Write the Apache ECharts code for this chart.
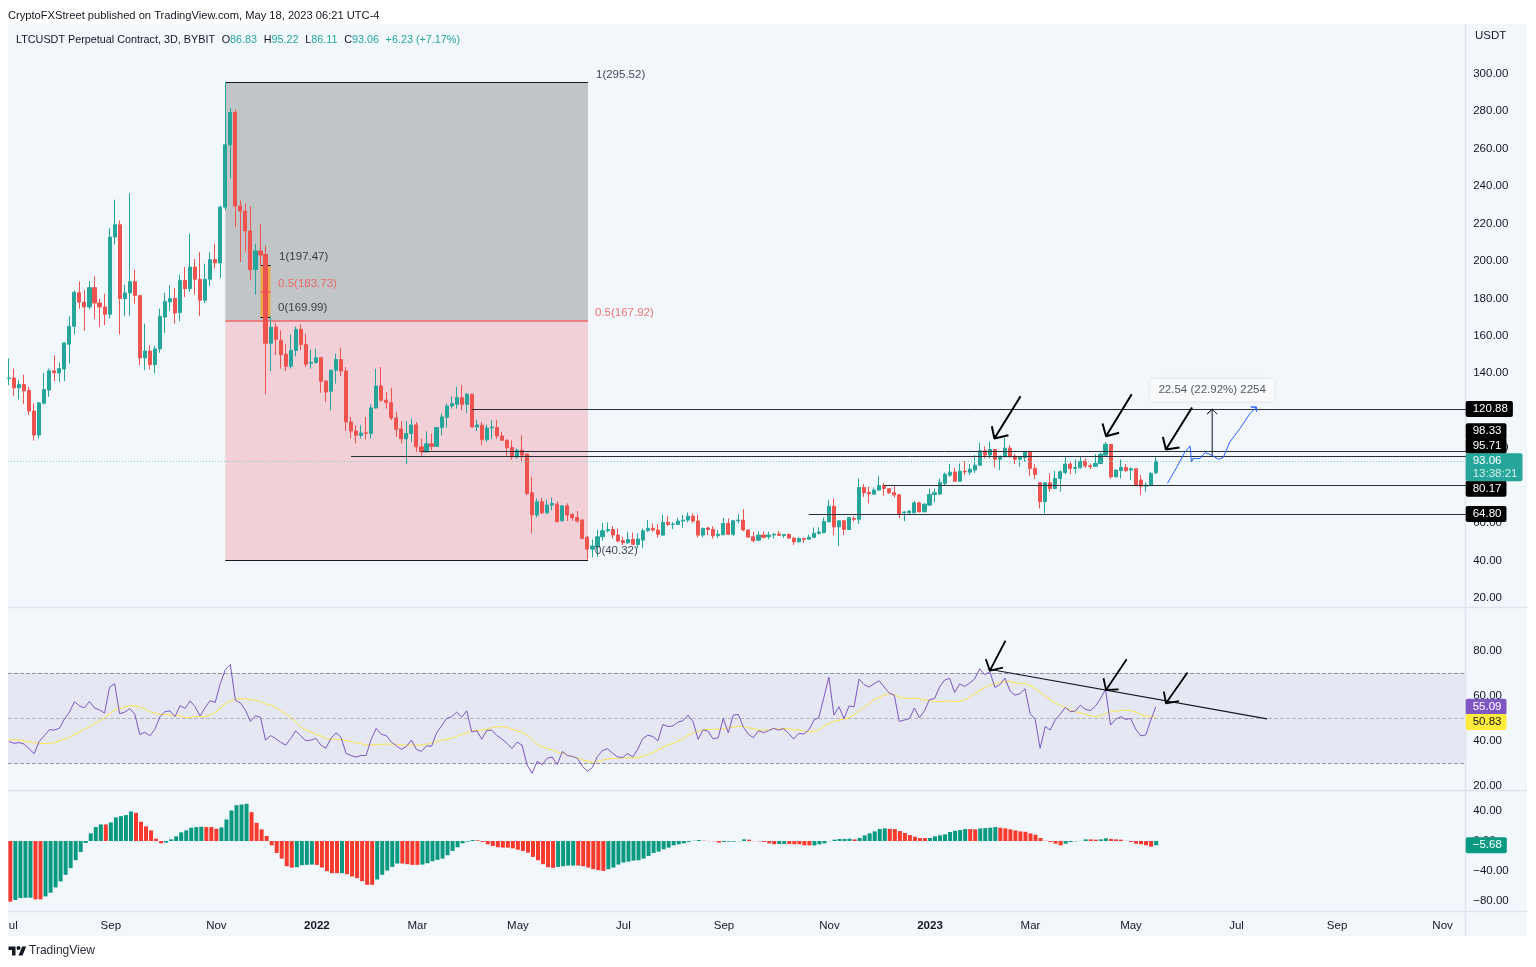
<!DOCTYPE html>
<html><head><meta charset="utf-8">
<style>html,body{margin:0;padding:0;background:#fff}#c{width:1536px;height:967px}</style>
<script src="https://cdn.jsdelivr.net/npm/echarts@6/dist/echarts.min.js"></script>
</head><body><div id="c"></div>
<script>
const FONT = "'Liberation Sans', Arial, sans-serif";
const slotCount = 291;
const xTickBars = [0,20,41,61,81,101,122,142,163,183,203,223,244,264,285];
const xTickLabels = ['Jul','Sep','Nov','2022','Mar','May','Jul','Sep','Nov','2023','Mar','May','Jul','Sep','Nov'];
const open = [
137.2,137.5,132.2,134,130.8,119.8,107,124,131,141.3,
140.2,142.3,155.5,165.1,183,178,175.4,185.7,177.5,175.4,
171.5,212.7,219.3,179.9,182.9,188.9,181.5,148.2,151.9,144.6,
153,170,178.1,179.9,172.4,189.6,185.2,196.7,190.2,179,
190.2,200.7,198.9,228.7,262,279.2,229.3,226.6,216,195.3,
205.3,203.4,156,164.7,157.6,150.1,143.7,152.2,163.4,155.4,
145.3,145.8,148.3,135.9,130.4,141.6,147.3,141.2,114,109.2,
106.8,108.2,107.8,121.5,133.2,125.6,124.3,116.1,110.3,105,
107.8,112.4,100.7,98,102.3,101,111,116.5,122.5,123.4,
127,123.4,128.8,111.3,112.2,104.6,110.8,111,106.5,104.2,
100.3,95.3,98.9,96.8,76.2,64.3,71.4,65.5,69.6,70.1,
61.2,69.2,64.6,63,61.6,52.4,46.1,47.4,52.7,55.9,
56.6,53.6,50.6,49.5,51.3,48.6,50.9,55.9,57.2,56.3,
53.6,60.4,59.3,59.3,61.1,61.6,63.7,61.1,53.6,57.4,
56.6,53.4,53.8,59.8,54,61.2,61.6,56.3,52.7,50.9,
53.6,52.7,53.6,54.1,53.4,53.9,52,50,51.8,51.4,
52.4,54.5,54.9,60.7,69,58,61.2,56.6,62.5,62,
79,76.4,75.4,77.6,80.1,78.3,76.2,75.1,65.5,65.5,
65.5,70.8,66,69.6,75.3,75.5,81.2,85.6,87.2,82.4,
87.7,87.2,88.3,90.9,98.6,96.3,99.3,94.1,95.4,100,
95.7,94.1,95,98,89.2,81.5,71.4,81.5,78.5,83.8,
87,91.5,89.2,89.5,93,90.6,90.4,91.8,96.3,102,
84.7,88,89.7,88.3,89,83,79.7,80.1,86.83];
const close = [
137.5,132.2,134,130.6,119.8,107,124.2,131.3,141.3,140.2,
142.5,156.2,165.1,183.2,178,175.4,185.7,177.5,175.4,171.5,
212.7,219.3,179.9,182.9,188.9,181.6,148.2,151.9,144.6,153,
170.4,178.4,179.9,172.2,189.6,185.2,196.7,190.2,179,190.2,
200.7,198.9,228.7,262,279.2,229.3,226.6,216,195.3,205.3,
203.1,156,164.7,158.1,149.9,143.7,152.2,163.4,155.4,144.8,
145.8,148.3,135.7,130,141.6,147.3,141.2,114,109.2,106.9,
108.1,107.9,121.5,133.2,125.6,124.3,116.1,110.1,105,107.8,
112.4,100.7,98,102.3,101,111,116.7,122.5,123.8,127,
123.4,128.8,111.3,112.4,104.6,110.8,111.3,106.5,104.2,100.3,
95.3,98.9,96.3,75.8,64.3,71.4,65.5,69.6,70.5,60.7,
69.2,64.3,62.8,61.1,51.8,46.1,47.7,52.7,55.9,56.6,
53.6,50.4,49.5,51.3,48.6,51.5,55.9,57.2,56.3,54,
60.4,59.3,59.5,61.1,61.6,63.7,61.1,53.6,57.2,56.6,
53.2,54.1,59.8,54,61.2,61.6,56.3,52.5,50.6,53.6,
52.4,53.6,54.1,53.4,53.9,52,50,51.8,51.4,52.5,
54.5,55.2,60.9,69,58,61.2,56.6,63,62,79,
76.2,75.6,77.6,80.1,78.5,76.2,75,64.8,65.9,66.4,
70.8,66,70.1,75.3,76.2,81.7,86.1,87.2,82.4,87.7,
87.4,88.8,90.9,98.6,96.3,99.3,94.1,95.7,100,95.4,
94.1,95.2,98,89.2,86,71.4,81.5,78.5,83.8,87.4,
91.5,89.2,89.7,93,90.6,90.1,91.8,96.8,102.1,84.7,
88.3,89.7,88,89,80.3,79.7,80.3,86.5,93.06];
const low = [
133.6,127.8,126,123.5,117.6,104,105.2,123.5,127.4,135.8,
135.4,135.8,145.2,160.8,174.5,162.6,174,169,164.7,165.6,
169.2,208.7,160.7,170.6,170.6,177.2,144.3,141.6,142,139.9,
150.9,161.5,173.3,166.5,167.8,180.7,183.4,182,170.6,177.5,
186.6,195.9,190.9,227,244.2,218,199.4,205,190,182,
197.5,128.8,141.2,149.6,142.5,141.2,142.5,149,152.2,143.3,
142.5,145.1,129.6,124.7,120.2,134.5,138.4,109.2,105.1,102.5,
105.1,104.6,105.1,121.1,124.7,121.1,114.9,106,102.5,91.4,
103.3,98,96.2,97.7,98.9,100.7,106.9,111,121.1,121.1,
120.2,118.8,111.3,109.2,101.6,103.3,105,105,103.9,95.7,
93.9,94.4,92.7,74.9,54.5,63,64.8,64.8,66.9,60.7,
60.7,61.2,61.2,60.2,51.3,40.6,41.7,42,50.6,55,
51.8,49.7,48.3,48.8,48.3,46.5,46.5,55.4,55.4,52.2,
53.1,58.4,56.8,58.9,57.5,60.4,60.2,52.2,52.4,53.6,
51.6,52,53.4,53.6,53.1,59.8,55.7,52.5,49.7,50.4,
51.8,51.3,51.8,53.1,52,51.6,48.3,49.7,49.5,51.3,
52,54,54.5,60.2,53.6,47.7,53.6,56.3,60.7,59.5,
74,70.5,75.4,77.2,74.6,75.5,73.7,62.5,61,64.6,
65.2,65.7,65.9,69.2,71,75,80.3,84.7,82,82,
85.6,85.6,86.8,90.9,94.5,94.5,89.7,88.3,95,95,
91.5,90,92.7,85.1,83.5,67.8,65.2,76.7,78,76.7,
86,86,86.5,89.2,89.5,88.8,90,91.5,96,83.8,
84.4,83.8,87.4,83,79.7,75,76.7,79.7,86.11];
const high = [
147.9,142.5,136.6,139.3,132.7,123.9,124.5,140.2,142.5,149.6,
145.7,156.5,170.6,184.3,189,184.3,189.3,191.8,179.9,182.5,
217.5,232.7,221.6,187.3,236.2,195.3,181.5,166.5,155,154.6,
174.5,183,187,185.5,192.6,196.7,214.5,201,204.7,198.5,
204.7,209.2,229.6,295.5,281.7,280.8,232.3,230.5,229.3,209.2,
219.5,208,170.4,166.8,162.9,155.4,160.8,165,166.1,161.1,
152.6,153.1,148.7,136.2,141.9,150.5,153.7,143.3,116.7,112.2,
112.2,116.7,123.4,142.4,143.3,130,132.3,119.3,114.4,114.5,
115.8,114,105.1,109,107.8,111.1,118.5,123.8,127.7,132.7,
133.9,129.5,128.8,115.3,114,112.6,114.9,114.9,108.7,104.6,
104.2,99.8,106.9,97.2,84.7,73.2,73.5,72.6,73.7,71.7,
69.6,70.5,65.2,66.4,62.1,53.2,51.3,56.3,60.2,60.4,
58.4,57.2,52.7,55.4,55,54.5,57.2,61.6,59.8,59.5,
64.6,63.9,60.5,62.8,64.3,65.7,65.2,64.6,57.5,58.1,
58.4,56.3,62.8,62.5,61.6,64.8,67.5,56.6,55.4,55.7,
55.4,55.4,54.5,55.7,53.9,54.5,52.4,52.4,52.2,53.9,
57.7,57.7,63,72.3,73.2,61.6,61.6,63,63.7,83.8,
80.8,79.4,79,85.2,81.5,78.5,79.7,75.3,66.4,66.9,
71.7,71.4,70.5,78.5,78.5,83.8,87,91.5,89.5,91.8,
93,91.5,96.3,102.8,101,103.4,99.3,95.7,105.5,101.6,
96.8,95.2,98.4,98.4,91.5,81.5,81.8,86.5,87.9,88.3,
95.7,93,94,95.4,94.5,91.8,96.8,97.5,103.2,102,
88.6,94,91.5,89.7,89.2,85.6,81.7,87.2,95.22];
const rsi = [
39.7,38.9,39.2,38.6,36.5,34.3,39.7,42.2,44.9,44.8,
45.5,49.5,52.6,57.3,55.5,54.6,57.5,54.5,53.7,52.3,
63.8,65.3,52,52.7,54.3,51.8,42.8,43.8,42.2,45.1,
50.7,52.9,53.3,50.7,55.6,54.3,57.7,55.1,51,54.8,
57.8,57,65.3,71.5,73.8,58,56.8,53.6,48.6,51.1,
50.4,40.3,42.3,41,39.4,38.1,41,44.4,42.2,40,
40.3,41.1,38.1,36.7,41.1,43.5,41.6,34.5,33.5,32.8,
33.5,33.5,40.7,45.5,42.9,42.3,39.5,37.8,36.2,37.5,
40.3,36.2,35.3,37.8,37.6,43.5,46.6,49.9,50.7,52.7,
50.5,53.3,43.9,44.5,40.7,44.7,44.7,42.3,40.8,38.9,
36.6,39.4,38.1,29.3,25.6,30.9,29.4,32.3,32.8,29.4,
35.3,33.5,33.1,32.3,28.7,26.5,28.2,33.1,35.7,36.5,
34.5,32.9,32.6,34.4,32.8,36.3,41,42.5,41.9,40,
47.3,46.3,46.6,48.3,48.9,51.4,48.5,40.7,44.9,44.2,
40.8,41.4,49.9,43.6,51.4,51.7,46,42.9,41.4,44.5,
43.6,44.5,45.5,44.8,45.4,43.3,40.8,43.3,43,44.8,
49,50.4,59.2,68.2,51.4,55.1,49.8,55.4,55.1,67.4,
64.9,63.8,65.3,66.6,63.8,61.2,60.2,48.6,49.2,49.8,
54.5,50.2,53.3,58.3,58.7,63.8,66.9,67.7,61.4,65.2,
64.1,65.6,67.5,71.9,69.3,70.7,63.6,64.9,67.8,62.1,
60.2,60.9,63.1,52.1,49.5,36.7,46.3,44.8,49.2,51.8,
54.8,52.9,53.2,55.8,53.9,53.4,55.4,58.7,62.8,47,
49.5,50.7,49.5,49.9,45.1,42.2,42.6,49.2,55.09];
const rsiSignal = [
40.6,40.4,40.3,40,39.5,39.2,38.9,38.8,38.9,39.2,
40,40.7,41.6,42.8,43.9,45.1,46.3,47.6,48.8,50.2,
52,53.7,54.3,54.9,55.5,55.5,55.1,54,52.9,52.3,
51.8,51.7,51.5,51.4,51,50.2,50.4,50.8,50.7,50.7,
51.5,52.6,54.2,56.4,57.8,58.3,58.6,58.7,58.3,58,
57.4,56.4,55.8,54.9,53.4,52,50.4,48.3,46.1,44.9,
43.9,42.9,42.2,41,40.7,40.7,40.6,40.1,39.7,39.2,
38.8,38.1,38.2,38.4,38.5,38.5,38.6,38.5,38.2,38.1,
38.1,38.1,38.2,38.5,38.9,39.7,40.3,40.7,41.1,41.9,
42.8,43.6,44.4,44.5,44.8,45.2,45.8,46.1,46.4,46,
45.2,44.4,43.8,42.6,40.7,38.4,37.3,36.6,36,35,
34.5,33.7,33.1,32.5,31.6,30.9,30.4,30.9,31.5,31.9,
32.2,32.3,32.5,32.5,32.3,32.6,33.2,34,34.8,35.9,
37.2,38.2,38.9,39.8,40.8,42.5,43.5,44.2,44.9,45.1,
45.1,45.1,45.4,45.7,46.1,46.4,46.4,45.8,45.4,44.8,
44.7,44.9,45.4,45.2,45.5,45.4,44.9,44.8,44.4,43.9,
44.2,44.8,46.3,47.7,48.6,49.2,49.6,50.2,51.5,53.3,
54.9,56.5,58.3,59.2,60.2,60.9,60.5,59.3,59,58.7,
58.9,58.6,58.3,57.7,57.4,57.4,57.6,57.6,57.4,57.6,
58.1,59.4,60.9,62.3,63.8,64.5,65.3,65.8,66.3,66.4,
65.8,65.4,65.3,64.6,63.1,61.4,59.7,58.3,56.8,55.6,
54.8,53.6,52.9,52.4,51.8,51.2,50.7,51.1,52.1,52.9,
53.2,53.4,53.6,53.4,52.7,51.7,51,50.5,50.83];
const ao = [
-81.3,-79.1,-76.4,-76,-76,-78.2,-78.2,-74.2,-69.3,-62.2,
-54.2,-45.3,-36.4,-25.8,-14.7,-2.7,10.2,18.7,22.2,22.2,
24.9,31.6,33.3,34.7,39.6,37.8,25.8,19.6,14.2,3.1,
-3.1,-2.2,2.2,6.2,11.6,14.2,17.8,18.7,19.1,18.7,
18.7,16.4,18.2,28.9,40.9,48,48.9,49.8,38.7,24.4,
15.6,6.7,-5.8,-16,-23.6,-33.8,-35.6,-35.1,-32.4,-32,
-31.6,-32,-35.6,-40.4,-43.1,-43.1,-43.1,-44.4,-47.6,-49.8,
-53.8,-58.7,-58.7,-51.6,-45.3,-39.6,-34.7,-30.2,-30.2,-31.1,
-32,-32,-31.6,-29.8,-27.1,-25.3,-23.6,-19.1,-13.3,-8.4,
-3.1,-0.9,1.3,0.9,-1.3,-4.4,-6.7,-8.4,-8.9,-8.9,
-9.8,-11.6,-13.3,-15.6,-21.3,-25.8,-31.1,-35.1,-36,-34.7,
-33.8,-32.9,-32.9,-32.9,-33.8,-35.6,-37.8,-39.1,-40,-37.8,
-35.6,-31.6,-28.9,-27.6,-26.2,-25.8,-23.6,-20,-16,-14.2,
-11.1,-8.9,-5.8,-4.4,-3.1,-1.3,0.4,1.3,0.4,-0.2,
-0.4,-2.2,-1.3,-0.9,-0.9,-0.2,2.2,1.8,-0.2,-0.4,
-1.3,-3.1,-4.4,-4,-4,-4,-4.4,-4.4,-5.8,-5.8,
-5.8,-4.4,-3.1,-0.2,1.8,2.7,2.7,3.1,2.2,4,
7.6,10.2,12.9,16,16.9,16.4,16,13.3,10.7,8,
5.8,4,4,4,6.2,7.6,8.9,12,13.8,14.7,
16,16,15.6,16.9,17.3,17.8,18.7,17.8,16.9,15.6,
14.2,12.9,12.4,10.2,8.4,4,0.4,-1.3,-3.6,-5.8,
-3.6,-1.3,-0.4,0.2,2.2,2.2,1.8,2.2,3.6,2.7,
2.2,1.8,0.2,-1.3,-3.6,-4.4,-5.8,-7.6,-5.68];
const aoDirection = ('RGGGGRRGGG'+'GGGGGGGGGR'+'GGGGGRRRRR'+'RGGGGGGGGR'+'RRGGGGGGRR'+'RRRRRRRGGG'+'GRRRRRGRRR'+'RRRGGGGGRR'+'RRGGGGGGGG'+'GGGRRRRRRR'+'RRRRRRRRRG'+'GGGRRRRRRG'+'GGGGGGGGGG'+'GGGGGGGGRR'+'RRGGGGGRRR'+'RRRGGRRRRR'+'GGGGGGGGRG'+'GGGGGRRRRR'+'RRRGGGGGGG'+'GRRGGGGRRR'+'RRRRRRRRRR'+'GGGGGRRGGR'+'RRRRRRRRG').split('');

// horizontal level lines: [first bar, price, tag text, tag nudge]
const priceLevels = [[92,120.88,'120.88',0],[82,98.33,'98.33',-20],[68,95.71,'95.71',-10.5],[174,80.17,'80.17',3.5],[159,64.80,'64.80',0]];
const fibLarge = {from:43,to:115.1,top:295.52,mid:167.92,bottom:40.32};
const fibSmall = {from:50,to:52,top:197.47,mid:183.73,bottom:169.99};
// text notes on the price pane: [bar, price, text, colour]
const priceNotes = [
 [116.7,299.5,'1(295.52)','#131722'],[116.5,172.5,'0.5(167.92)','#ef5350'],[116.5,45,'0(40.32)','#131722'],
 [53.7,201.9,'1(197.47)','#131722'],[53.5,188,'0.5(183.73)','#ef5350'],[53.5,174.7,'0(169.99)','#131722']];
const blackArrowsMain = [
 [[201.1,127.7],[195.9,105.2],[195.4,111.7],[195.9,105.2],[198.7,106.9]],
 [[223.2,128.8],[218.1,106.4],[217.4,113.2],[218.1,106.4],[220.7,108.2]],
 [[235.2,121.7],[230,99.3],[229.4,106],[230,99.3],[232.7,100.4]]];
const measureLine = [[239.2,95.71],[239.2,120.88],[238.2,118.2],[239.2,120.88],[240.2,118.2]];
const forecastSketch = [[230.3,81.2],[232.2,90],[233.8,98],[234.8,101.2],[235.1,92.7],[235.4,94.5],[236.8,94.5],[237.8,97.7],[239.1,96.3],[240.4,94.1],[241.4,95],[242.7,103.3],[244.7,110.4],[246.7,118.4],[248,121.9],[246.9,122],[248,121.9],[248.2,122],[248,119.4]];
const blackArrowsRsi = [
 [[198.1,84.3],[195,71.1],[194.2,76.2],[195,71.1],[197.6,72.4]],
 [[222.2,76.1],[218.1,62.5],[217.6,67.7],[218.1,62.5],[220.6,62.8]],
 [[234.3,70.3],[230,56.6],[229.6,61.8],[230,56.6],[232.6,57.6]]];
const rsiTrend = [[194.6,71.8],[250.1,49.7]];

const categories = Array.from({length:slotCount},(_,i)=>String(i));
const candleData = open.map((o,i)=>[o,close[i],low[i],high[i]]);
const BAR = 5.03, LEFT = 6.485, WIDTH = BAR*slotCount;
const INK = '#131722';
const NOLINE = {color:'rgba(0,0,0,0)',width:1};
const LAST = 290, EDGE = 289.56, START = -0.2;

function poly(pts,color,width,xi,yi,z){
  return {type:'line',xAxisIndex:xi,yAxisIndex:yi,data:pts,showSymbol:false,symbol:'none',clip:false,z:z||6,silent:true,
    lineStyle:{color:color,width:width},itemStyle:{color:color}};
}
function seg(x1,y1,x2,y2,color,width,type){
  return [{coord:[x1,y1],lineStyle:{color:color,width:width,type:type||'solid'},label:{show:false}},{coord:[x2,y2]}];
}
function tag(bar,val,text,bg,fg,line,nudge){
  return [{coord:[bar,val],lineStyle:line,label:{show:true,position:'end',distance:-2,offset:[0,nudge||0],formatter:text,backgroundColor:bg,color:fg,
    fontFamily:FONT,fontSize:11.5,padding:[2,5,2,7],borderRadius:2}},{coord:[LAST,val]}];
}
function fibLines(f){
  return [seg(f.from,f.top,f.to,f.top,INK,1),seg(f.from,f.mid,f.to,f.mid,'#f0646a',1.6),seg(f.from,f.bottom,f.to,f.bottom,INK,1)];
}

const series = [
  // fib shading and level lines
  {type:'line',xAxisIndex:3,yAxisIndex:0,data:[[fibLarge.from,fibLarge.top]],showSymbol:false,z:1,silent:true,lineStyle:{width:0},
   markArea:{silent:true,z:1,data:[
     [{coord:[fibLarge.from,fibLarge.top],itemStyle:{color:'#c2c5c8'}},{coord:[fibLarge.to,fibLarge.mid]}],
     [{coord:[fibLarge.from,fibLarge.mid],itemStyle:{color:'#f2d0d8'}},{coord:[fibLarge.to,fibLarge.bottom]}],
     [{coord:[fibSmall.from,fibSmall.top],itemStyle:{color:'#eba94e'}},{coord:[fibSmall.to,fibSmall.bottom]}]
   ]},
   markLine:{silent:true,symbol:'none',z:2,animation:false,data:[...fibLines(fibLarge),...fibLines(fibSmall)]}},
  {type:'candlestick',xAxisIndex:0,yAxisIndex:0,data:candleData,barWidth:3.6,z:3,silent:true,
   itemStyle:{color:'#26a69a',color0:'#ef5350',borderColor:'#26a69a',borderColor0:'#ef5350',borderWidth:1}},
  // price levels with right-hand tags
  {type:'line',xAxisIndex:3,yAxisIndex:0,data:[[LAST,93.06]],showSymbol:false,z:4,silent:true,lineStyle:{width:0},
   markLine:{silent:true,symbol:'none',z:4,animation:false,data:[
     ...priceLevels.map(l=>tag(l[0],l[1],l[2],'#000','#fff',{color:'#2a2e39',width:1,type:'solid'},l[3])),
     [{coord:[START,93.06],lineStyle:{color:'#7fd0c8',width:1,type:[1,2]},
       label:{show:true,position:'end',distance:-2,offset:[0,6],formatter:'{a|93.06}\n{b|13:38:21}',backgroundColor:'#26a69a',padding:[1,5,1,7],borderRadius:2,
         rich:{a:{color:'#fff',fontFamily:FONT,fontSize:11.5,lineHeight:13},b:{color:'#d4eeeb',fontFamily:FONT,fontSize:11.5,lineHeight:13}}}},{coord:[LAST,93.06]}]
   ]}},
  ...blackArrowsMain.map(a=>poly(a,'#000',2,3,0)),
  poly(measureLine,INK,1,3,0),
  poly(forecastSketch,'#2962ff',1,3,0),
  {type:'scatter',xAxisIndex:3,yAxisIndex:0,symbolSize:0,z:7,silent:true,
   data:priceNotes.map(n=>({value:[n[0],n[1]],label:{show:true,position:'right',distance:0,formatter:n[2],color:n[3],fontFamily:FONT,fontSize:11.5}}))},
  {type:'scatter',xAxisIndex:3,yAxisIndex:0,symbolSize:0,z:7,silent:true,
   data:[{value:[239.2,130.9],label:{show:true,position:'inside',formatter:'22.54 (22.92%) 2254',color:'#2a2e39',fontFamily:FONT,fontSize:11.5,
     backgroundColor:'#fff',padding:[5,8],borderRadius:4,shadowColor:'rgba(0,0,0,0.12)',shadowBlur:4}}]},
  // RSI pane
  {type:'line',xAxisIndex:4,yAxisIndex:1,data:[[0,50]],showSymbol:false,z:1,silent:true,lineStyle:{width:0},
   markArea:{silent:true,z:1,data:[[{coord:[START,70],itemStyle:{color:'#e5e7f3'}},{coord:[EDGE,30]}]]},
   markLine:{silent:true,symbol:'none',z:2,animation:false,data:[
     seg(START,70,EDGE,70,'#8f929b',1,'dashed'),seg(START,50,EDGE,50,'#b2b5be',1,'dashed'),seg(START,30,EDGE,30,'#8f929b',1,'dashed')]}},
  {type:'line',xAxisIndex:1,yAxisIndex:1,data:rsiSignal,showSymbol:false,symbol:'none',z:3,silent:true,lineStyle:{color:'#fbe64d',width:1}},
  {type:'line',xAxisIndex:1,yAxisIndex:1,data:rsi,showSymbol:false,symbol:'none',z:4,silent:true,lineStyle:{color:'#7e57c2',width:1}},
  poly(rsiTrend,INK,1.2,4,1),
  ...blackArrowsRsi.map(a=>poly(a,'#000',1.8,4,1)),
  {type:'line',xAxisIndex:4,yAxisIndex:1,data:[[LAST,50]],showSymbol:false,z:8,silent:true,lineStyle:{width:0},
   markLine:{silent:true,symbol:'none',z:8,animation:false,data:[
     tag(LAST-1,55.09,'55.09','#7e57c2','#fff',NOLINE,0),tag(LAST-1,50.83,'50.83','#ffeb3b','#131722',NOLINE,5.5)]}},
  // AO pane
  {type:'bar',xAxisIndex:2,yAxisIndex:2,data:ao,barWidth:4,z:3,silent:true,
   itemStyle:{color:p=>aoDirection[p.dataIndex]==='G'?'#089981':'#f7392e'},
   markLine:{silent:true,symbol:'none',z:8,animation:false,data:[tag(LAST-1,-5.68,'\u22125.68','#089981','#fff',NOLINE,0)]}}
];

const yLabel = {color:INK,fontFamily:FONT,fontSize:11.5,margin:3,formatter:v=>v.toFixed(2).replace('-','\u2212')};
const hiddenBits = {axisLine:{show:false},axisTick:{show:false},splitLine:{show:false}};

const LINE = '#e0e3eb';
const hline = y=>({type:'line',silent:true,z:-1,shape:{x1:8,y1:y,x2:1527,y2:y},style:{stroke:LINE,lineWidth:1.5}});
const option = {
  animation:false,
  backgroundColor:'#fff',
  textStyle:{fontFamily:FONT},
  grid:[
    {left:LEFT,width:WIDTH,top:73.6,height:524.4},
    {left:LEFT,width:WIDTH,top:650.5,height:135.5},
    {left:LEFT,width:WIDTH,top:792,height:118}
  ],
  xAxis:[
    {type:'category',gridIndex:0,data:categories,show:false},
    {type:'category',gridIndex:1,data:categories,show:false},
    {type:'category',gridIndex:2,data:categories,position:'bottom',...hiddenBits,
     axisLabel:{color:INK,fontFamily:FONT,fontSize:11.5,margin:10,hideOverlap:false,
       interval:i=>xTickBars.includes(i),
       formatter:(v,i)=>{const t=xTickLabels[xTickBars.indexOf(i)];return /^\d/.test(t)?'{b|'+t+'}':t;},
       rich:{b:{fontWeight:'bold',color:INK,fontFamily:FONT,fontSize:11.5}}}},
    {type:'value',gridIndex:0,min:-0.5,max:290.5,show:false,...hiddenBits},
    {type:'value',gridIndex:1,min:-0.5,max:290.5,show:false,...hiddenBits}
  ],
  yAxis:[
    {type:'value',gridIndex:0,position:'right',min:20,max:300,interval:20,...hiddenBits,axisLabel:yLabel},
    {type:'value',gridIndex:1,position:'right',min:20,max:80,interval:20,...hiddenBits,axisLabel:yLabel},
    {type:'value',gridIndex:2,position:'right',min:-92.5,max:65.7,...hiddenBits,axisLabel:{...yLabel,customValues:[40,0,-40,-80]}}
  ],
  series:series,
  graphic:[
    {type:'rect',silent:true,z:-2,shape:{x:8,y:24,width:1519,height:912},style:{fill:'#f2f7fc'}},
    hline(607.5),hline(790.5),hline(911.5),
    {type:'line',silent:true,z:-1,shape:{x1:1465.5,y1:24,x2:1465.5,y2:936},style:{stroke:LINE,lineWidth:1.5}},
    {type:'rect',silent:true,z:100,shape:{x:0,y:915,width:8,height:20},style:{fill:'#fff'}},
    {type:'text',silent:true,z:10,x:8,y:10,style:{text:'CryptoFXStreet published on TradingView.com, May 18, 2023 06:21 UTC-4',fill:INK,font:"11.15px "+FONT}},
    {type:'text',silent:true,z:10,x:16,y:34,style:{
      text:'{k|LTCUSDT Perpetual Contract, 3D, BYBIT}  {k|O}{v|86.83}  {k|H}{v|95.22}  {k|L}{v|86.11}  {k|C}{v|93.06}  {v|+6.23 (+7.17%)}',
      rich:{k:{fill:INK,font:"10.8px "+FONT},v:{fill:'#26a69a',font:"10.8px "+FONT}}}},
    {type:'text',silent:true,z:10,x:1475,y:30,style:{text:'USDT',fill:INK,font:"11.5px "+FONT}},
    {type:'polygon',silent:true,z:10,shape:{points:[[8.5,946.5],[15.5,946.5],[15.5,955.5],[12,955.5],[12,950],[8.5,950]]},style:{fill:INK}},
    {type:'polygon',silent:true,z:10,shape:{points:[[18.5,955.5],[22.2,946.5],[26.2,946.5],[22.5,955.5]]},style:{fill:INK}},
    {type:'circle',silent:true,z:10,shape:{cx:18.5,cy:948,r:2},style:{fill:INK}},
    {type:'text',silent:true,z:10,x:29,y:945,style:{text:'TradingView',fill:'#2a2e39',font:"12px "+FONT}}
  ]
};
const chart = echarts.init(document.getElementById('c'),null,{renderer:'canvas',width:1536,height:967});
chart.setOption(option);
</script></body></html>
